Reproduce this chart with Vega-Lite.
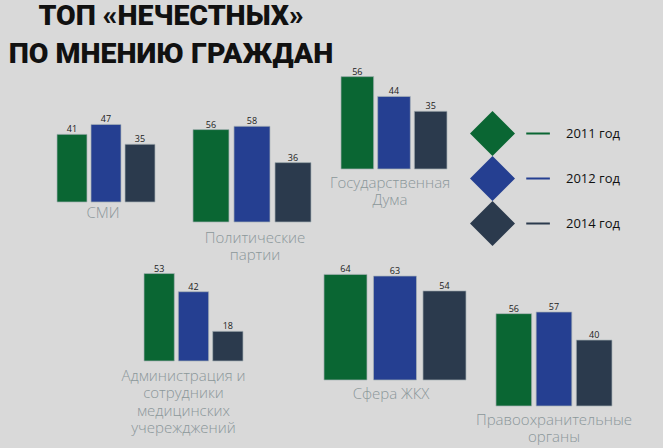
{
  "$schema": "https://vega.github.io/schema/vega-lite/v6.json",
  "background": "#d9d9d9",
  "padding": {"left": 8, "top": 2, "right": 30, "bottom": 11},
  "title": {
    "text": ["ТОП «НЕЧЕСТНЫХ»", "ПО МНЕНИЮ ГРАЖДАН"],
    "anchor": "start",
    "align": "center",
    "frame": "group",
    "dx": 114,
    "offset": -30,
    "baseline": "bottom",
    "font": "Roboto",
    "fontWeight": 900,
    "fontSize": 28.5,
    "lineHeight": 38,
    "color": "#111111"
  },
  "data": {
    "values": [
      {"group": "СМИ", "year": "2011", "value": 41},
      {"group": "СМИ", "year": "2012", "value": 47},
      {"group": "СМИ", "year": "2014", "value": 35},
      {"group": "Политические партии", "year": "2011", "value": 56},
      {"group": "Политические партии", "year": "2012", "value": 58},
      {"group": "Политические партии", "year": "2014", "value": 36},
      {"group": "Государственная Дума", "year": "2011", "value": 56},
      {"group": "Государственная Дума", "year": "2012", "value": 44},
      {"group": "Государственная Дума", "year": "2014", "value": 35},
      {"group": "Администрация и сотрудники медицинских учережджений", "year": "2011", "value": 53},
      {"group": "Администрация и сотрудники медицинских учережджений", "year": "2012", "value": 42},
      {"group": "Администрация и сотрудники медицинских учережджений", "year": "2014", "value": 18},
      {"group": "Сфера ЖКХ", "year": "2011", "value": 64},
      {"group": "Сфера ЖКХ", "year": "2012", "value": 63},
      {"group": "Сфера ЖКХ", "year": "2014", "value": 54},
      {"group": "Правоохранительные органы", "year": "2011", "value": 56},
      {"group": "Правоохранительные органы", "year": "2012", "value": 57},
      {"group": "Правоохранительные органы", "year": "2014", "value": 40}
    ]
  },
  "vconcat": [
    {
      "hconcat": [
        {
          "width": 98, "height": 130,
          "transform": [{"filter": "datum.group === 'СМИ'"}],
          "encoding": {
            "x": {"field": "year", "type": "nominal", "axis": null, "scale": {"paddingInner": 0.118, "paddingOuter": 0, "align": 1}},
            "y": {"field": "value", "type": "quantitative", "axis": null, "scale": {"domain": [0, 78.8], "nice": false}}
          },
          "layer": [
            {"mark": {"type": "bar", "stroke": "#a9b4b6", "strokeWidth": 1, "strokeOpacity": 0.7},
             "encoding": {"color": {"field": "year", "type": "nominal",
               "scale": {"domain": ["2011", "2012", "2014"], "range": ["#0a6633", "#253f91", "#2b3a4d"]},
               "legend": {"orient": "none", "legendX": 413, "legendY": 39, "title": null,
                 "symbolType": "M-1,0L0,-1L1,0L0,1Z M1.5,-0.045L2.55,-0.045L2.55,0.045L1.5,0.045Z",
                 "symbolSize": 2025, "symbolStrokeWidth": 0, "symbolOpacity": 1,
                 "labelOffset": 51, "labelFontSize": 13, "labelFont": "Open Sans", "labelColor": "#111111",
                 "rowPadding": -5, "labelExpr": "datum.label + ' год'"}}}},
            {"mark": {"type": "text", "baseline": "alphabetic", "dy": -2, "fontSize": 9, "font": "Open Sans", "color": "#222222"},
             "encoding": {"text": {"field": "value", "type": "quantitative"}}},
            {"transform": [{"filter": "datum.year === '2012'"}],
             "mark": {"type": "text", "text": ["СМИ"], "baseline": "top", "dy": 4, "dx": -3, "fontSize": 15, "font": "Open Sans", "fontWeight": 300, "lineHeight": 17, "color": "#8b9799"},
             "encoding": {"y": {"datum": 0}}}
          ]
        },
        {
          "width": 156, "height": 150,
          "transform": [{"filter": "datum.group === 'Политические партии'"}],
          "encoding": {
            "x": {"field": "year", "type": "nominal", "axis": null, "scale": {"paddingInner": 0.122, "paddingOuter": 0.463, "align": 1}},
            "y": {"field": "value", "type": "quantitative", "axis": null, "scale": {"domain": [0, 90.9], "nice": false}}
          },
          "layer": [
            {"mark": {"type": "bar", "stroke": "#a9b4b6", "strokeWidth": 1, "strokeOpacity": 0.7},
             "encoding": {"color": {"field": "year", "type": "nominal", "scale": {"domain": ["2011", "2012", "2014"], "range": ["#0a6633", "#253f91", "#2b3a4d"]}}}},
            {"mark": {"type": "text", "baseline": "alphabetic", "dy": -2, "fontSize": 9, "font": "Open Sans", "color": "#222222"},
             "encoding": {"text": {"field": "value", "type": "quantitative"}}},
            {"transform": [{"filter": "datum.year === '2012'"}],
             "mark": {"type": "text", "text": ["Политические", "партии"], "baseline": "top", "dy": 9, "dx": 3, "fontSize": 15, "font": "Open Sans", "fontWeight": 300, "lineHeight": 17, "color": "#8b9799"},
             "encoding": {"y": {"datum": 0}}}
          ]
        },
        {
          "width": 136, "height": 97,
          "transform": [{"filter": "datum.group === 'Государственная Дума'"}],
          "encoding": {
            "x": {"field": "year", "type": "nominal", "axis": null, "scale": {"paddingInner": 0.109, "paddingOuter": 0.409, "align": 1}},
            "y": {"field": "value", "type": "quantitative", "axis": null, "scale": {"domain": [0, 58.8], "nice": false}}
          },
          "layer": [
            {"mark": {"type": "bar", "stroke": "#a9b4b6", "strokeWidth": 1, "strokeOpacity": 0.7},
             "encoding": {"color": {"field": "year", "type": "nominal", "scale": {"domain": ["2011", "2012", "2014"], "range": ["#0a6633", "#253f91", "#2b3a4d"]}}}},
            {"mark": {"type": "text", "baseline": "alphabetic", "dy": -2, "fontSize": 9, "font": "Open Sans", "color": "#222222"},
             "encoding": {"text": {"field": "value", "type": "quantitative"}}},
            {"transform": [{"filter": "datum.year === '2012'"}],
             "mark": {"type": "text", "text": ["Государственная", "Дума"], "baseline": "top", "dy": 7, "dx": -4, "fontSize": 15, "font": "Open Sans", "fontWeight": 300, "lineHeight": 17, "color": "#8b9799"},
             "encoding": {"y": {"datum": 0}}}
          ]
        }
      ],
      "spacing": 0,
      "bounds": "flush"
    },
    {
      "hconcat": [
        {
          "width": 186, "height": 98,
          "transform": [{"filter": "datum.group === 'Администрация и сотрудники медицинских учережджений'"}],
          "encoding": {
            "x": {"field": "year", "type": "nominal", "axis": null, "scale": {"paddingInner": 0.117, "paddingOuter": 0, "rangeMin": 87}},
            "y": {"field": "value", "type": "quantitative", "axis": null, "scale": {"domain": [0, 59.4], "nice": false}}
          },
          "layer": [
            {"mark": {"type": "bar", "stroke": "#a9b4b6", "strokeWidth": 1, "strokeOpacity": 0.7},
             "encoding": {"color": {"field": "year", "type": "nominal", "scale": {"domain": ["2011", "2012", "2014"], "range": ["#0a6633", "#253f91", "#2b3a4d"]}}}},
            {"mark": {"type": "text", "baseline": "alphabetic", "dy": -2, "fontSize": 9, "font": "Open Sans", "color": "#222222"},
             "encoding": {"text": {"field": "value", "type": "quantitative"}}},
            {"transform": [{"filter": "datum.year === '2012'"}],
             "mark": {"type": "text", "text": ["Администрация и", "сотрудники", "медицинских", "учережджений"], "baseline": "top", "dy": 8, "dx": -10, "fontSize": 15, "font": "Open Sans", "fontWeight": 300, "lineHeight": 17.3, "color": "#8b9799"},
             "encoding": {"y": {"datum": 0}}}
          ]
        },
        {
          "width": 223, "height": 117,
          "transform": [{"filter": "datum.group === 'Сфера ЖКХ'"}],
          "encoding": {
            "x": {"field": "year", "type": "nominal", "axis": null, "scale": {"paddingInner": 0.131, "paddingOuter": 0.818, "align": 1}},
            "y": {"field": "value", "type": "quantitative", "axis": null, "scale": {"domain": [0, 70.9], "nice": false}}
          },
          "layer": [
            {"mark": {"type": "bar", "stroke": "#a9b4b6", "strokeWidth": 1, "strokeOpacity": 0.7},
             "encoding": {"color": {"field": "year", "type": "nominal", "scale": {"domain": ["2011", "2012", "2014"], "range": ["#0a6633", "#253f91", "#2b3a4d"]}}}},
            {"mark": {"type": "text", "baseline": "alphabetic", "dy": -2, "fontSize": 9, "font": "Open Sans", "color": "#222222"},
             "encoding": {"text": {"field": "value", "type": "quantitative"}}},
            {"transform": [{"filter": "datum.year === '2012'"}],
             "mark": {"type": "text", "text": ["Сфера ЖКХ"], "baseline": "top", "dy": 7, "dx": -4, "fontSize": 15, "font": "Open Sans", "fontWeight": 300, "lineHeight": 17, "color": "#8b9799"},
             "encoding": {"y": {"datum": 0}}}
          ]
        },
        {
          "width": 146, "height": 143,
          "transform": [{"filter": "datum.group === 'Правоохранительные органы'"}],
          "encoding": {
            "x": {"field": "year", "type": "nominal", "axis": null, "scale": {"paddingInner": 0.112, "paddingOuter": 0.373, "align": 1}},
            "y": {"field": "value", "type": "quantitative", "axis": null, "scale": {"domain": [0, 86.7], "nice": false}}
          },
          "layer": [
            {"mark": {"type": "bar", "stroke": "#a9b4b6", "strokeWidth": 1, "strokeOpacity": 0.7},
             "encoding": {"color": {"field": "year", "type": "nominal", "scale": {"domain": ["2011", "2012", "2014"], "range": ["#0a6633", "#253f91", "#2b3a4d"]}}}},
            {"mark": {"type": "text", "baseline": "alphabetic", "dy": -2, "fontSize": 9, "font": "Open Sans", "color": "#222222"},
             "encoding": {"text": {"field": "value", "type": "quantitative"}}},
            {"transform": [{"filter": "datum.year === '2012'"}],
             "mark": {"type": "text", "text": ["Правоохранительные", "органы"], "baseline": "top", "dy": 7, "dx": 0, "fontSize": 15, "font": "Open Sans", "fontWeight": 300, "lineHeight": 17, "color": "#8b9799"},
             "encoding": {"y": {"datum": 0}}}
          ]
        }
      ],
      "spacing": 0,
      "bounds": "flush"
    }
  ],
  "spacing": 0,
  "config": {"view": {"stroke": null}}
}
